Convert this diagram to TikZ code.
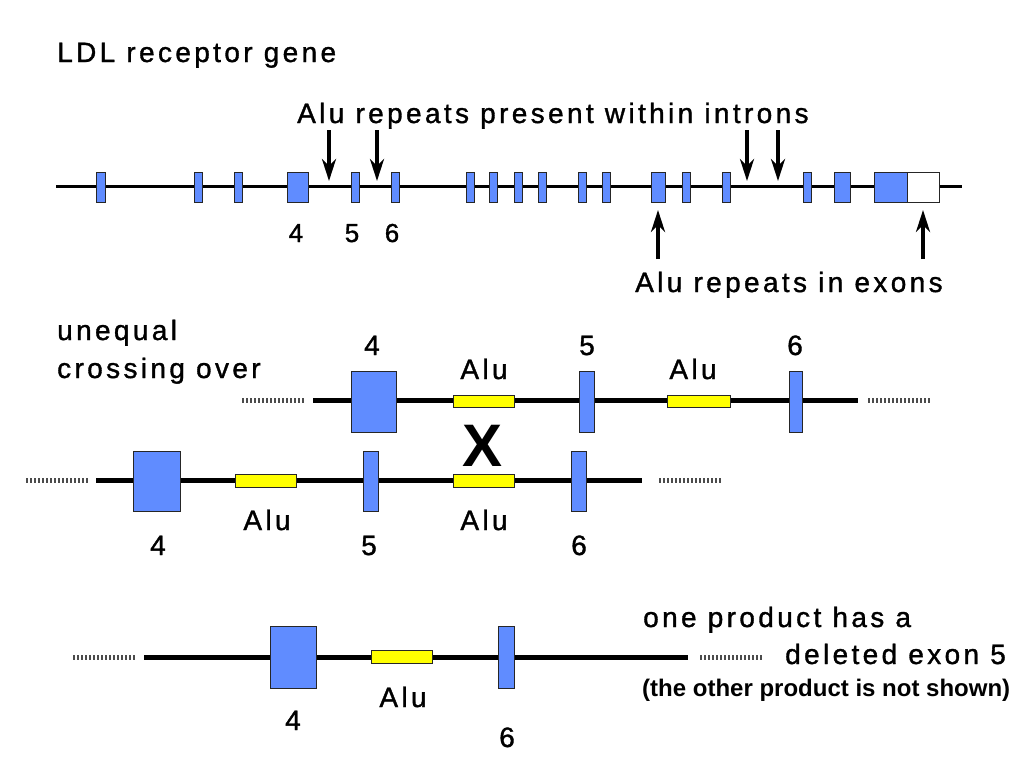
\documentclass[tikz,border=0pt]{standalone}
\usepackage{fontspec}
\setmainfont{Liberation Sans}
\newfontfamily\lblfont[LetterSpace=12,FakeBold=1.2]{Liberation Sans}
\usetikzlibrary{arrows.meta}

\definecolor{exonblue}{RGB}{96,140,255}
\definecolor{aluyellow}{RGB}{255,255,0}

\tikzset{
  exon/.style={draw=black!85, line width=1.5pt, fill=exonblue, inner sep=0pt, outer sep=0pt},
  utr/.style={exon, fill=white},
  alu/.style={exon, fill=aluyellow},
  gene/.style={line width=3pt},
  chrom/.style={line width=5pt},
  dots/.style={line width=5pt, black!70, dash pattern=on 1.5pt off 2.5pt},
  pointer/.style={line width=4pt, -{Stealth[length=22pt,width=14pt,inset=7pt]}},
  txtL/.style={font=\lblfont\fontsize{28}{32}\selectfont, inner sep=0pt},
  txtS/.style={font=\lblfont\fontsize{26}{30}\selectfont, inner sep=0pt},
  txtNote/.style={font=\bfseries\fontsize{24}{28}\selectfont, inner sep=0pt},
  txtCross/.style={font=\bfseries\fontsize{60}{64}\selectfont, inner sep=0pt},
}

% box spanning x1..x2, y1..y2 (pixel-like units, y downwards)
\newcommand\exonbox[6]{%
  \node[#1, minimum width={(#4-#3-1)*1pt}, minimum height={(#6-#5-1)*1pt}]
    (#2) at ({(#3+#4)/2},{(#5+#6)/2}) {};}

\begin{document}
\begin{tikzpicture}[x=1pt, y=-1pt]
\fill[white] (0,0) rectangle (1017,772);
\useasboundingbox (0,0) rectangle (1017,772);

% ---------------- LDL receptor gene ----------------
\node[txtL, anchor=base west] (title) at (57,62) {LDL receptor gene};

\coordinate (g0) at (56,186);
\coordinate (g1) at (962,186);
\draw[gene] (g0) -- (g1);

\exonbox{exon}{t1}{96}{106}{172}{203}
\exonbox{exon}{t2}{194}{203}{172}{203}
\exonbox{exon}{t3}{234}{243}{172}{203}
\exonbox{exon}{t4}{287}{309}{172}{203}
\exonbox{exon}{t5}{351}{360}{172}{203}
\exonbox{exon}{t6}{391}{400}{172}{203}
\exonbox{exon}{t7}{466}{475}{172}{203}
\exonbox{exon}{t8}{489}{498}{172}{203}
\exonbox{exon}{t9}{514}{523}{172}{203}
\exonbox{exon}{t10}{538}{547}{172}{203}
\exonbox{exon}{t11}{578}{587}{172}{203}
\exonbox{exon}{t12}{602}{611}{172}{203}
\exonbox{exon}{t13}{651}{666}{172}{203}
\exonbox{exon}{t14}{682}{691}{172}{203}
\exonbox{exon}{t15}{722}{731}{172}{203}
\exonbox{exon}{t16}{803}{812}{172}{203}
\exonbox{exon}{t17}{834}{851}{172}{203}
\exonbox{exon}{t18}{874}{908}{172}{203}
\exonbox{utr}{t18u}{907}{940}{172}{203}

\node[txtS, anchor=base] (n4) at (296,242) {4};
\node[txtS, anchor=base] (n5) at (352,242) {5};
\node[txtS, anchor=base] (n6) at (392,242) {6};

\node[txtL, anchor=base west] (intr) at (297,123) {Alu repeats present within introns};
\node[txtL, anchor=base west] (exal) at (635,292) {Alu repeats in exons};

\coordinate (a1s) at (329,130); \coordinate (a1e) at (329,181);
\coordinate (a2s) at (377,130); \coordinate (a2e) at (377,181);
\coordinate (a3s) at (747,130); \coordinate (a3e) at (747,181);
\coordinate (a4s) at (778,130); \coordinate (a4e) at (778,181);
\coordinate (u1s) at (658,259); \coordinate (u1e) at (658,210);
\coordinate (u2s) at (923,259); \coordinate (u2e) at (923,210);
\draw[pointer] (a1s) -- (a1e);
\draw[pointer] (a2s) -- (a2e);
\draw[pointer] (a3s) -- (a3e);
\draw[pointer] (a4s) -- (a4e);
\draw[pointer] (u1s) -- (u1e);
\draw[pointer] (u2s) -- (u2e);

% ---------------- unequal crossing over ----------------
\node[txtL, anchor=base west] (uneq) at (57,340) {unequal};
\node[txtL, anchor=base west] (cross) at (57,378) {crossing over};

% upper chromosome
\coordinate (A0) at (242,400); \coordinate (A1) at (304,400);
\coordinate (A2) at (313,400); \coordinate (A3) at (858,400);
\coordinate (A4) at (868,400); \coordinate (A5) at (930,400);
\draw[dots] (A0) -- (A1);
\draw[chrom] (A2) -- (A3);
\draw[dots] (A4) -- (A5);
\exonbox{exon}{A-e4}{351}{397}{371}{433}
\exonbox{alu}{A-alu1}{453}{515}{395}{408}
\exonbox{exon}{A-e5}{579}{595}{371}{433}
\exonbox{alu}{A-alu2}{667}{731}{395}{408}
\exonbox{exon}{A-e6}{789}{803}{371}{433}
\node[txtL, anchor=base] (A-l4) at (372,355) {4};
\node[txtL, anchor=base] (A-la1) at (484,379) {Alu};
\node[txtL, anchor=base] (A-l5) at (587,355) {5};
\node[txtL, anchor=base] (A-la2) at (693,379) {Alu};
\node[txtL, anchor=base] (A-l6) at (795,355) {6};

% lower chromosome
\coordinate (B0) at (26,480); \coordinate (B1) at (88,480);
\coordinate (B2) at (96,480); \coordinate (B3) at (642,480);
\coordinate (B4) at (659,480); \coordinate (B5) at (722,480);
\draw[dots] (B0) -- (B1);
\draw[chrom] (B2) -- (B3);
\draw[dots] (B4) -- (B5);
\exonbox{exon}{B-e4}{133}{181}{451}{512}
\exonbox{alu}{B-alu1}{235}{297}{474}{488}
\exonbox{exon}{B-e5}{363}{379}{451}{512}
\exonbox{alu}{B-alu2}{453}{515}{474}{488}
\exonbox{exon}{B-e6}{571}{587}{451}{512}
\node[txtCross] (X) at (483,446) {X};
\node[txtL, anchor=base] (B-la1) at (267,530) {Alu};
\node[txtL, anchor=base] (B-l4) at (158,555) {4};
\node[txtL, anchor=base] (B-l5) at (369,555) {5};
\node[txtL, anchor=base] (B-la2) at (484,530) {Alu};
\node[txtL, anchor=base] (B-l6) at (579,555) {6};

% ---------------- product ----------------
\coordinate (C0) at (73,657); \coordinate (C1) at (136,657);
\coordinate (C2) at (144,657); \coordinate (C3) at (688,657);
\coordinate (C4) at (700,657); \coordinate (C5) at (762,657);
\draw[dots] (C0) -- (C1);
\draw[chrom] (C2) -- (C3);
\draw[dots] (C4) -- (C5);
\exonbox{exon}{C-e4}{270}{317}{626}{689}
\exonbox{alu}{C-alu}{371}{433}{650}{664}
\exonbox{exon}{C-e6}{498}{515}{626}{689}
\node[txtL, anchor=base] (C-la) at (403,707) {Alu};
\node[txtL, anchor=base] (C-l4) at (293,730) {4};
\node[txtL, anchor=base] (C-l6) at (507,747) {6};

\node[txtL, anchor=base west] (prod1) at (643,627) {one product has a};
\node[txtL, anchor=base west] (prod2) at (785,664) {deleted exon 5};
\node[txtNote, anchor=base west] (prod3) at (642,696) {(the other product is not shown)};
\end{tikzpicture}
\end{document}
